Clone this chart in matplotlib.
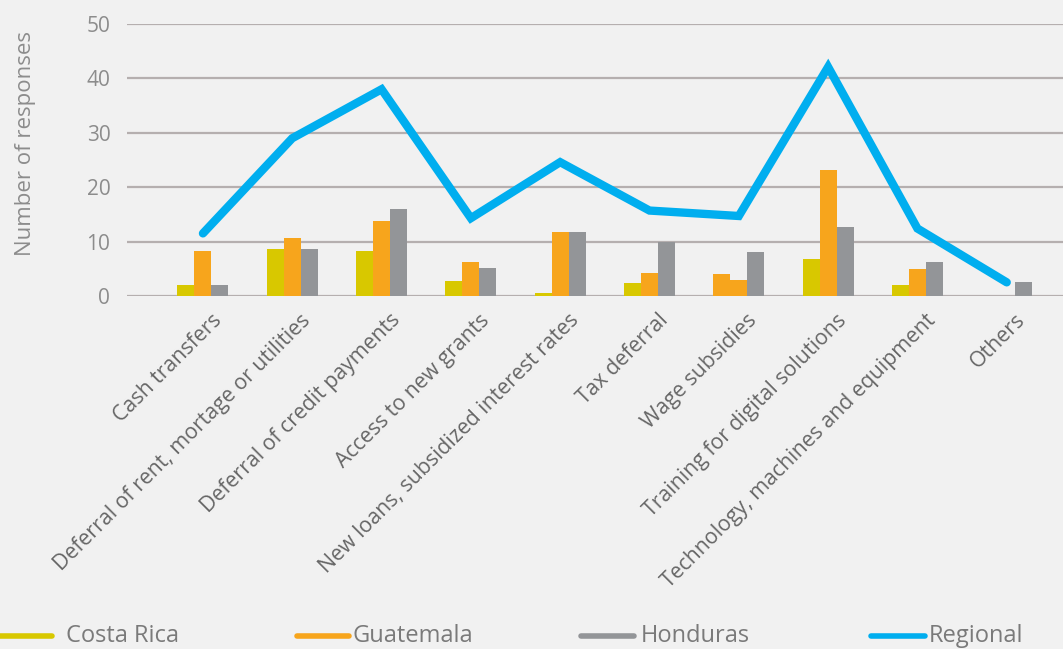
import matplotlib.pyplot as plt
import matplotlib.transforms as mtransforms
from matplotlib.lines import Line2D
import numpy as np

plt.rcParams['font.family'] = ['Open Sans', 'DejaVu Sans']

categories = ["Cash transfers",
              "Deferral of rent, mortage or utilities",
              "Deferral of credit payments",
              "Access to new grants",
              "New loans, subsidized interest rates",
              "Tax deferral",
              "Wage subsidies",
              "Training for digital solutions",
              "Technology, machines and equipment",
              "Others"]

costa_rica = [2.1, 8.7, 8.2, 2.7, 0.6, 2.4, 4.1, 6.8, 2.0, 0]
guatemala = [8.2, 10.7, 13.8, 6.3, 11.8, 4.2, 3.0, 23.1, 5.0, 0]
honduras = [2.1, 8.7, 16.0, 5.1, 11.8, 9.9, 8.1, 12.7, 6.3, 2.6]
regional = [11.5, 29.0, 38.0, 14.3, 24.6, 15.7, 14.7, 42.1, 12.4, 2.5]

yellow = "#d8c800"
orange = "#f7a51c"
grey = "#939598"
blue = "#00aeef"
bg = "#f1f1f1"

# the source chart paints the Costa Rica bar for wage subsidies orange
cr_colors = [yellow] * len(categories)
cr_colors[6] = orange

fig = plt.figure(figsize=(10.63, 6.49), dpi=100, facecolor=bg)
ax = fig.add_axes([0.1195, 0.544, 0.8805, 0.419])
ax.set_facecolor(bg)

x = np.arange(len(categories))
w = 0.19
ax.bar(x - w, costa_rica, w, color=cr_colors, zorder=2)
ax.bar(x, guatemala, w, color=orange, zorder=2)
ax.bar(x + w, honduras, w, color=grey, zorder=2)
ax.plot(x, regional, color=blue, lw=6, solid_capstyle="round",
        solid_joinstyle="miter", zorder=3)

ax.set_xlim(-0.85, 9.63)
ax.set_ylim(0, 50)
ax.set_yticks(range(0, 51, 10))
ax.yaxis.grid(True, color="#b5afaf", lw=1.6)
ax.set_axisbelow(True)
for s in ax.spines.values():
    s.set_visible(False)

ax.tick_params(axis="y", length=0, pad=12, labelsize=15, labelcolor="#8c8c8c")
ax.tick_params(axis="x", length=0, pad=10)
ax.set_xticks(x)
ax.set_xticklabels(categories, rotation=45, ha="right", va="top",
                   rotation_mode="anchor", fontsize=15.3, color="#666666")
offset = mtransforms.ScaledTranslation(8 / 100, 0, fig.dpi_scale_trans)
for lab in ax.get_xticklabels():
    lab.set_transform(lab.get_transform() + offset)

ax.set_ylabel("Number of responses", fontsize=16, color="#8c8c8c")
ax.yaxis.set_label_coords(-0.097, 0.56)

# legend drawn along the bottom edge
legend_items = [("Costa Rica", yellow, 0.0, 0.049, 0.062),
                ("Guatemala", orange, 0.279, 0.328, 0.332),
                ("Honduras", grey, 0.547, 0.596, 0.603),
                ("Regional", blue, 0.819, 0.870, 0.874)]
ly = 1 - 636 / 649
for name, col, x0, x1, tx in legend_items:
    fig.add_artist(Line2D([x0, x1], [ly, ly], color=col, lw=4,
                          solid_capstyle="round", transform=fig.transFigure))
    fig.text(tx, ly, name, fontsize=17, color="#7a7a7a", va="center")

plt.savefig("out.png", dpi=100, facecolor=bg)
